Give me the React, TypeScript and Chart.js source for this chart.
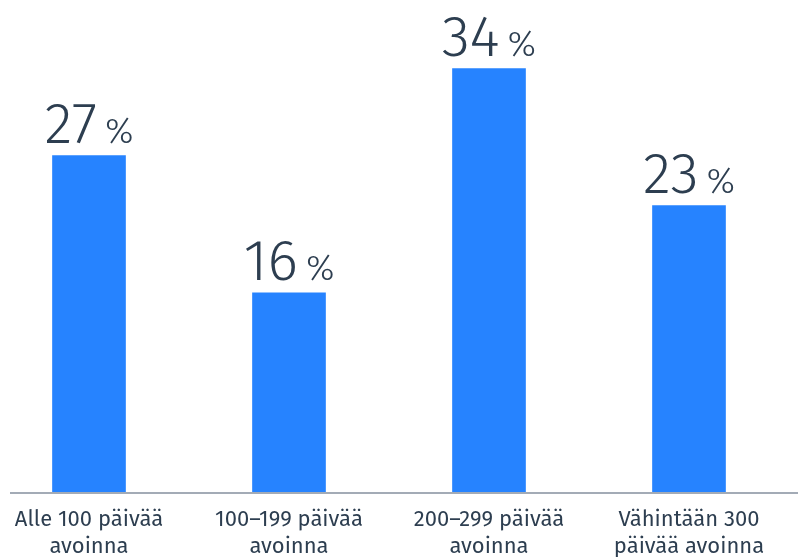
import React, { useEffect, useRef } from "react";
import { Chart, registerables } from "chart.js";

Chart.register(...registerables);

const categories: string[][] = [
  ["Alle 100 päivää", "avoinna"],
  ["100–199 päivää", "avoinna"],
  ["200–299 päivää", "avoinna"],
  ["Vähintään 300", "päivää avoinna"],
];
const values: number[] = [27, 16, 34, 23];
const yMax = 39.5;

const TEXT = "#2d3e50";
const BAR = "#2683ff";
const FONT = "'Fira Sans', 'Open Sans', 'Noto Sans', sans-serif";

const labelPlugin = {
  id: "valueLabels",
  afterDatasetsDraw(chart: any) {
    const ctx = chart.ctx;
    const meta = chart.getDatasetMeta(0);
    ctx.save();
    meta.data.forEach((bar: any, i: number) => {
      const num = String(values[i]);
      const pct = "%";
      const numFont = `300 58px ${FONT}`;
      const pctFont = `300 36px ${FONT}`;
      ctx.font = numFont;
      const w1 = ctx.measureText(num).width;
      ctx.font = pctFont;
      const w2 = ctx.measureText(pct).width;
      const gap = 8;
      const total = w1 + gap + w2;
      const x0 = bar.x - total / 2;
      const yb = bar.y - 13;
      ctx.fillStyle = TEXT;
      ctx.textBaseline = "alphabetic";
      ctx.textAlign = "left";
      ctx.font = numFont;
      ctx.fillText(num, x0, yb);
      ctx.font = pctFont;
      ctx.fillText(pct, x0 + w1 + gap, yb);
    });
    ctx.restore();
  },
};

const baselinePlugin = {
  id: "baseline",
  afterDatasetsDraw(chart: any) {
    const ctx = chart.ctx;
    const y = chart.chartArea.bottom;
    ctx.save();
    ctx.strokeStyle = "#a3abb6";
    ctx.lineWidth = 2;
    ctx.beginPath();
    ctx.moveTo(21, y + 1);
    ctx.lineTo(chart.width, y + 1);
    ctx.stroke();
    ctx.restore();
  },
};

export default function App() {
  const ref = useRef<HTMLCanvasElement | null>(null);
  useEffect(() => {
    if (!ref.current) return;
    const chart = new Chart(ref.current, {
      type: "bar",
      data: {
        labels: categories,
        datasets: [
          {
            data: values,
            backgroundColor: BAR,
            barThickness: 73,
            borderWidth: 0,
          },
        ],
      },
      options: {
        animation: false,
        responsive: false,
        maintainAspectRatio: false,
        layout: { padding: { left: 0, right: 10, top: 0, bottom: 0 } },
        plugins: { legend: { display: false }, tooltip: { enabled: false } },
        scales: {
          x: {
            grid: { display: false, drawTicks: false },
            border: { display: false },
            ticks: {
              color: TEXT,
              font: { family: FONT, size: 22, lineHeight: 1.2 },
              padding: 15,
              maxRotation: 0,
              autoSkip: false,
            },
            afterFit: (scale: any) => {
              scale.height = 65;
            },
          },
          y: {
            display: false,
            min: 0,
            max: yMax,
          },
        },
      },
      plugins: [labelPlugin, baselinePlugin],
    });
    return () => chart.destroy();
  }, []);
  return (
    <div style={{ position: "absolute", left: -11, top: 0, width: 810, height: 557 }}>
      <canvas ref={ref} width={810} height={557} style={{ display: "block" }} />
    </div>
  );
}
